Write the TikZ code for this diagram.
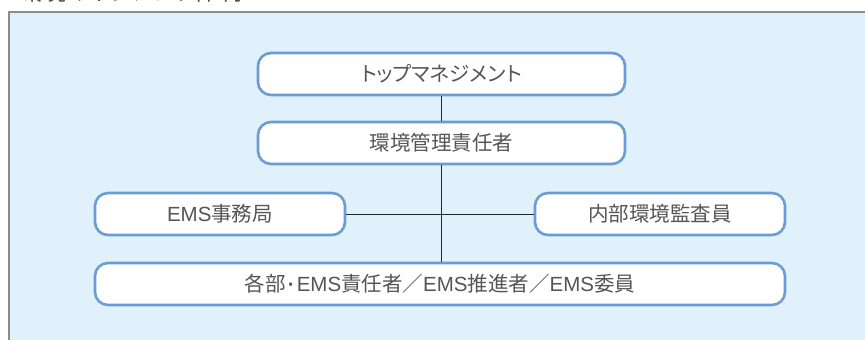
\documentclass[tikz,border=0pt]{standalone}
\usepackage{fontspec}
\setmainfont{Noto Sans CJK JP}
\newfontfamily\latin{Liberation Sans}
\newfontfamily\kana[RawFeature=+palt]{Noto Sans CJK JP}
\newcommand{\ems}{{\latin\fontsize{20.5}{22}\selectfont EMS}}
\definecolor{panelblue}{HTML}{E0F1FB}
\definecolor{boxline}{HTML}{6A9BD3}
\definecolor{textgrey}{HTML}{555555}
\definecolor{paneledge}{HTML}{8C8C8C}
\tikzset{
  orgbox/.style={draw=boxline, line width=2.6pt, fill=white, rounded corners=13pt,
    minimum height=42pt, text=textgrey, font=\fontsize{20.5}{22}\selectfont},
  orgline/.style={line width=1pt, black!85}
}

\begin{document}
\begin{tikzpicture}[x=1pt,y=1pt]
\useasboundingbox (0,0) rectangle (865,-340);
\clip (0,0) rectangle (865,-340);
% Panel behind the chart
\fill[panelblue] (9,-12) rectangle (866,-341);
\draw[paneledge, line width=1.4pt] (9,-341) -- (9,-12) -- (866,-12);
% Title, cut off at the top edge
\node[anchor=base west, inner sep=0, text=textgrey, font=\kana\fontsize{24}{26}\selectfont] (title) at (18,-1) {環境マネジメント体制};
% Boxes
\node[orgbox, minimum width=367pt, font=\kana\fontsize{20.5}{22}\selectfont] (top) at (441.5,-74) {トップマネジメント};
\node[orgbox, minimum width=367pt] (manager) at (441.5,-143) {環境管理責任者};
\node[orgbox, minimum width=250pt] (office) at (220,-214) {\ems 事務局};
\node[orgbox, minimum width=250pt] (auditor) at (660,-214) {内部環境監査員};
\node[orgbox, minimum width=690pt] (staff) at (440,-284) {各部\kern2pt{\latin\bfseries ·}\kern2pt\ems 責任者／\ems 推進者／\ems 委員};
% Connectors
\draw[orgline] (top) -- (manager);
\draw[orgline] (manager.south) -- (manager.south |- staff.north);
\draw[orgline] (office) -- (auditor);
\end{tikzpicture}
\end{document}
